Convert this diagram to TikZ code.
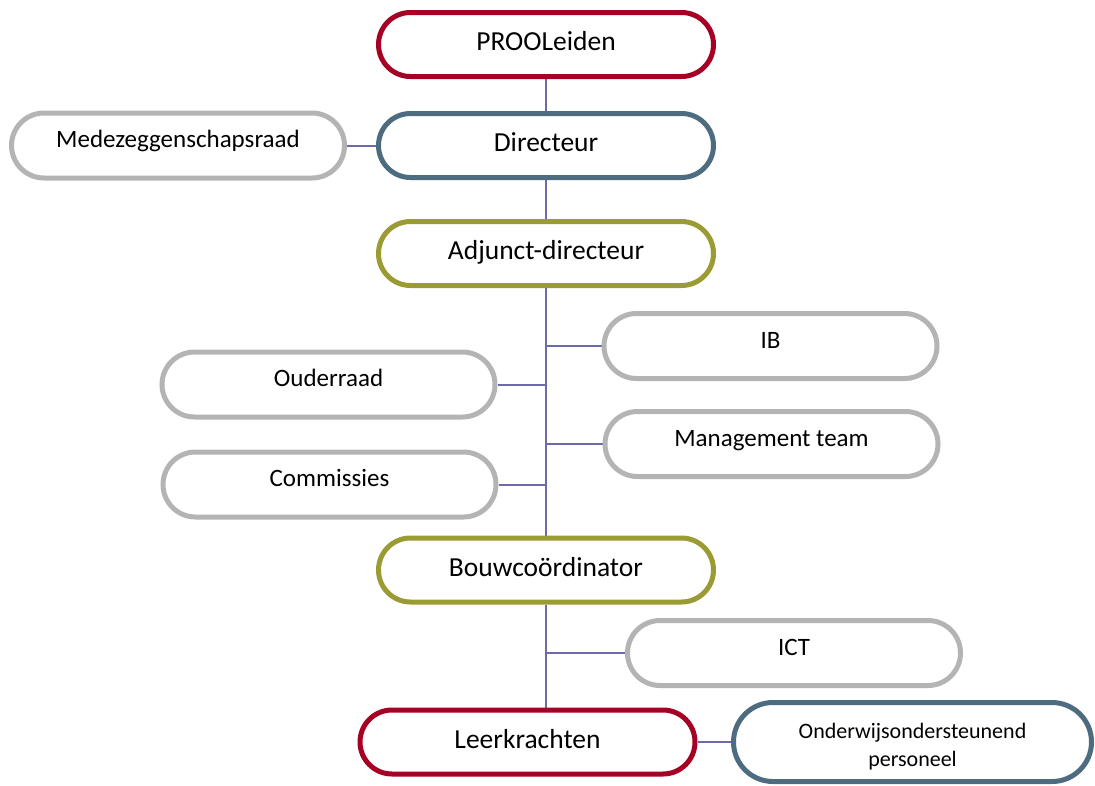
\documentclass[tikz,border=0pt]{standalone}
\usepackage{fontspec}
\setmainfont{Carlito}
\usetikzlibrary{shapes.misc,backgrounds}
\definecolor{cred}{RGB}{166,0,36}
\definecolor{cblue}{RGB}{78,108,128}
\definecolor{colive}{RGB}{155,155,52}
\definecolor{cgrey}{RGB}{180,180,180}
\definecolor{cline}{RGB}{108,106,168}
\begin{document}
\begin{tikzpicture}[x=1pt,y=-1pt,
  base/.style={rounded rectangle, line width=5pt, fill=white, inner sep=0pt, text=black},
  mainbox/.style={base, minimum width=335pt, minimum height=64pt,
    font=\fontsize{27.5}{33}\selectfont, text height=13pt, text depth=1pt},
  sidebox/.style={base, draw=cgrey, minimum width=333pt, minimum height=65pt,
    font=\fontsize{25}{30}\selectfont, text height=9pt, text depth=5pt},
  conn/.style={draw=cline, line width=2pt}]
\useasboundingbox (0,0) rectangle (1095,785);
\node[mainbox, draw=cred] (proo) at (546,44.5) {PROOLeiden};
\node[sidebox] (mzr) at (178,145.5) {Medezeggenschapsraad};
\node[mainbox, draw=cblue] (dir) at (546,145.5) {Directeur};
\node[mainbox, draw=colive] (adj) at (546,253.5) {Adjunct-directeur};
\node[sidebox] (ib) at (770.5,346) {IB};
\node[sidebox] (oud) at (328.5,384.5) {Ouderraad};
\node[sidebox] (mt) at (771.5,444) {Management team};
\node[sidebox] (com) at (329.5,484.5) {Commissies};
\node[mainbox, draw=colive] (bouw) at (546,570) {Bouwcoördinator};
\node[sidebox] (ict) at (794,653) {ICT};
\node[mainbox, draw=cred] (lk) at (527.5,742) {Leerkrachten};
\node[base, draw=cblue, minimum width=358pt, minimum height=79pt, align=center,
  font=\fontsize{22}{28}\selectfont, text height=50pt, text depth=2pt] (ond) at (912.5,742) {Onderwijsondersteunend\\personeel};
\begin{scope}[on background layer]
\draw[conn] (proo.south) -- (dir.north);
\draw[conn] (mzr.east) -- (dir.west);
\draw[conn] (dir.south) -- (adj.north);
\draw[conn] (adj.south) -- (bouw.north);
\draw[conn] (ib.west) -- (ib.west -| adj.south);
\draw[conn] (oud.east) -- (oud.east -| adj.south);
\draw[conn] (mt.west) -- (mt.west -| adj.south);
\draw[conn] (com.east) -- (com.east -| adj.south);
\draw[conn] (bouw.south) -- (bouw.south |- lk.north);
\draw[conn] (ict.west) -- (ict.west -| bouw.south);
\draw[conn] (lk.east) -- (lk.east -| ond.west);
\end{scope}
\end{tikzpicture}
\end{document}
